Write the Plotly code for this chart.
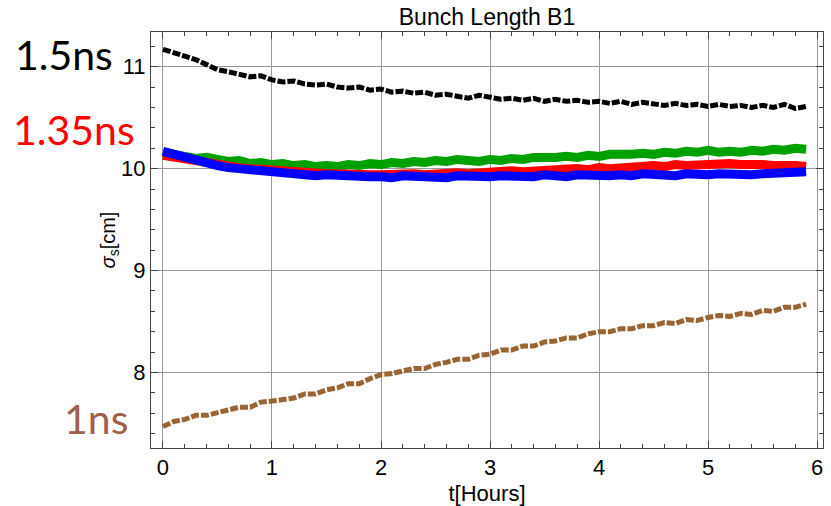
import plotly.graph_objects as go

# time in hours
t = [0.0, 0.1, 0.2, 0.3, 0.4, 0.5, 0.6, 0.7, 0.8, 0.9,
     1.0, 1.1, 1.2, 1.3, 1.4, 1.5, 1.6, 1.7, 1.8, 1.9,
     2.0, 2.1, 2.2, 2.3, 2.4, 2.5, 2.6, 2.7, 2.8, 2.9,
     3.0, 3.1, 3.2, 3.3, 3.4, 3.5, 3.6, 3.7, 3.8, 3.9,
     4.0, 4.1, 4.2, 4.3, 4.4, 4.5, 4.6, 4.7, 4.8, 4.9,
     5.0, 5.1, 5.2, 5.3, 5.4, 5.5, 5.6, 5.7, 5.8, 5.9]

black_15ns = [11.17, 11.14, 11.10, 11.07, 11.02, 10.97, 10.95, 10.92, 10.90, 10.91,
              10.87, 10.85, 10.86, 10.83, 10.82, 10.83, 10.80, 10.79, 10.80, 10.77,
              10.78, 10.75, 10.76, 10.74, 10.75, 10.72, 10.73, 10.71, 10.69, 10.72,
              10.70, 10.68, 10.69, 10.67, 10.69, 10.66, 10.68, 10.66, 10.67, 10.65,
              10.66, 10.64, 10.66, 10.63, 10.65, 10.64, 10.62, 10.64, 10.62, 10.63,
              10.61, 10.63, 10.61, 10.62, 10.60, 10.62, 10.60, 10.63, 10.59, 10.61]

green_135ns = [10.16, 10.13, 10.12, 10.10, 10.11, 10.09, 10.07, 10.08, 10.05, 10.06,
               10.04, 10.05, 10.03, 10.04, 10.02, 10.03, 10.02, 10.04, 10.03, 10.05,
               10.04, 10.06, 10.05, 10.07, 10.06, 10.08, 10.07, 10.09, 10.08, 10.07,
               10.09, 10.08, 10.10, 10.09, 10.11, 10.10, 10.11, 10.12, 10.11, 10.13,
               10.12, 10.14, 10.13, 10.14, 10.15, 10.14, 10.16, 10.15, 10.17, 10.16,
               10.18, 10.16, 10.17, 10.16, 10.18, 10.17, 10.19, 10.18, 10.20, 10.19]

red_135ns = [10.13, 10.11, 10.09, 10.08, 10.06, 10.04, 10.03, 10.01, 10.00, 9.99,
             9.98, 9.97, 9.97, 9.96, 9.96, 9.95, 9.95, 9.94, 9.95, 9.94,
             9.94, 9.95, 9.94, 9.95, 9.94, 9.95, 9.95, 9.96, 9.95, 9.96,
             9.97, 9.97, 9.98, 9.97, 9.98, 9.99, 9.98, 9.99, 10.00, 9.99,
             10.01, 10.00, 10.01, 10.02, 10.01, 10.03, 10.02, 10.04, 10.03, 10.04,
             10.05, 10.04, 10.05, 10.04, 10.05, 10.04, 10.03, 10.04, 10.03, 10.02]

blue_135ns = [10.17, 10.14, 10.10, 10.08, 10.05, 10.03, 10.01, 10.00, 9.98, 9.97,
              9.96, 9.95, 9.95, 9.94, 9.93, 9.94, 9.93, 9.92, 9.93, 9.92,
              9.92, 9.91, 9.93, 9.92, 9.91, 9.92, 9.91, 9.93, 9.92, 9.91,
              9.92, 9.93, 9.92, 9.93, 9.92, 9.94, 9.93, 9.92, 9.94, 9.93,
              9.94, 9.93, 9.94, 9.93, 9.95, 9.94, 9.95, 9.93, 9.95, 9.94,
              9.94, 9.95, 9.94, 9.95, 9.94, 9.95, 9.96, 9.95, 9.96, 9.97]

brown_1ns = [7.47, 7.52, 7.54, 7.58, 7.58, 7.61, 7.63, 7.66, 7.66, 7.71,
             7.72, 7.74, 7.75, 7.79, 7.79, 7.83, 7.85, 7.89, 7.89, 7.94,
             7.98, 7.99, 8.01, 8.04, 8.04, 8.08, 8.10, 8.13, 8.13, 8.17,
             8.18, 8.22, 8.22, 8.26, 8.26, 8.30, 8.31, 8.34, 8.34, 8.38,
             8.40, 8.40, 8.43, 8.43, 8.46, 8.46, 8.49, 8.48, 8.52, 8.51,
             8.54, 8.56, 8.55, 8.58, 8.57, 8.61, 8.60, 8.64, 8.64, 8.67]

x_ticks = [0, 1, 2, 3, 4, 5, 6]
y_ticks = [8, 9, 10, 11]

fig = go.Figure()

fig.add_trace(go.Scatter(x=t, y=brown_1ns, mode="lines",
                         line=dict(color="#996633", width=5, dash="8px,2px"),
                         showlegend=False))
fig.add_trace(go.Scatter(x=t, y=black_15ns, mode="lines",
                         line=dict(color="black", width=5, dash="8px,2px"),
                         showlegend=False))
fig.add_trace(go.Scatter(x=t, y=green_135ns, mode="lines",
                         line=dict(color="#00A000", width=9),
                         showlegend=False))
fig.add_trace(go.Scatter(x=t, y=red_135ns, mode="lines",
                         line=dict(color="#FF0000", width=9),
                         showlegend=False))
fig.add_trace(go.Scatter(x=t, y=blue_135ns, mode="lines",
                         line=dict(color="#0000FF", width=9),
                         showlegend=False))

axis_common = dict(
    showline=True, linecolor="#444444", linewidth=1, mirror="allticks",
    ticks="inside", ticklen=7, tickcolor="#444444",
    showgrid=True, gridcolor="#999999", gridwidth=1,
    zeroline=False,
    tickfont=dict(family="Liberation Sans, Arial", size=22, color="black"),
    minor=dict(ticks="inside", ticklen=4, tickcolor="#444444", dtick=0.2, showgrid=False),
)

fig.update_xaxes(range=[-0.11, 6.055], tickvals=x_ticks, **axis_common,
                 title=dict(text="t[Hours]", standoff=6,
                            font=dict(family="Liberation Sans, Arial", size=22, color="black")))
fig.update_yaxes(range=[7.26, 11.34], tickvals=y_ticks, **axis_common,
                 title=dict(text="<i>σ</i><sub>s</sub>[cm]", standoff=0,
                            font=dict(family="Liberation Sans, Arial", size=20, color="black")))

ann_font = "Lato, Open Sans, sans-serif"
fig.add_annotation(text="1.5ns", xref="paper", yref="paper", x=-0.1295, y=0.945,
                   xanchor="center", yanchor="middle", showarrow=False,
                   font=dict(family=ann_font, size=41, color="black"))
fig.add_annotation(text="1.35ns", xref="paper", yref="paper", x=-0.1145, y=0.765,
                   xanchor="center", yanchor="middle", showarrow=False,
                   font=dict(family=ann_font, size=41, color="#FF0000"))
fig.add_annotation(text="1ns", xref="paper", yref="paper", x=-0.0818, y=0.072,
                   xanchor="center", yanchor="middle", showarrow=False,
                   font=dict(family=ann_font, size=41, color="#A0604C"))

fig.update_layout(
    width=831, height=506,
    margin=dict(l=151, r=8, t=32, b=58, autoexpand=False),
    paper_bgcolor="white", plot_bgcolor="white",
    title=dict(text="Bunch Length B1", x=0.5, xref="paper", xanchor="center",
               y=1 - 17 / 506, yref="container", yanchor="middle",
               font=dict(family="Liberation Sans, Arial", size=23, color="black")),
)

fig.write_html("out.html")
